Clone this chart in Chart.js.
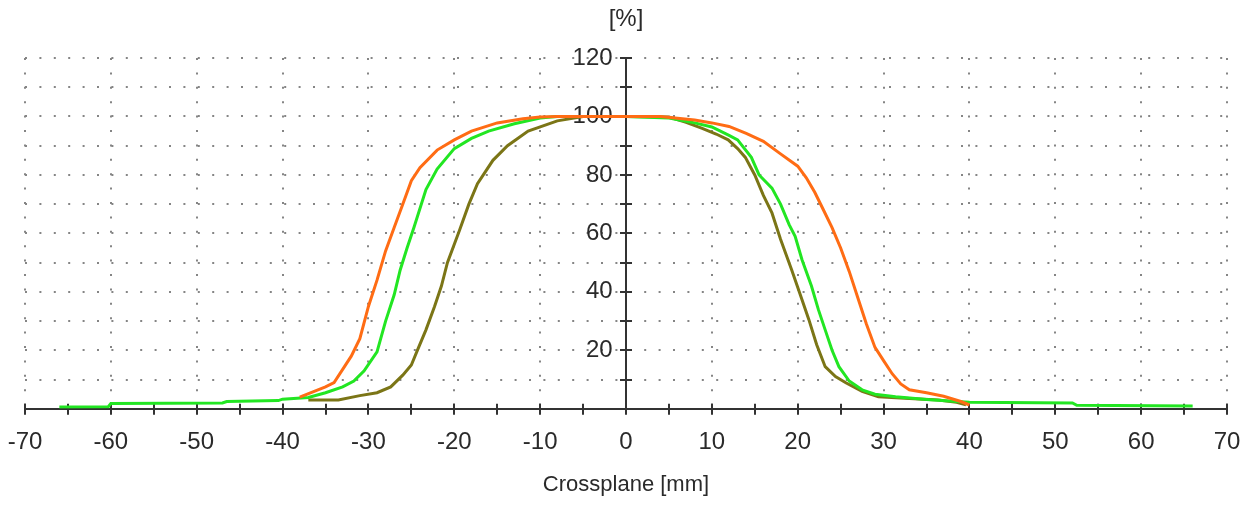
<!DOCTYPE html>
<html>
<head>
<meta charset="utf-8">
<title>Crossplane profile</title>
<script src="https://cdn.jsdelivr.net/npm/chart.js@4.4.1/dist/chart.umd.min.js"></script>
<style>
    html, body { margin: 0; padding: 0; background: #fff; }
    #wrap { width: 1259px; height: 506px; position: relative; }
</style>
</head>
<body>
<div id="wrap"><canvas id="profileChart"></canvas></div>
<script>
// profile values (mm, %)
const orangeX = [-38, -35, -34, -32, -31, -30, -29, -28, -27, -26, -25, -24, -22, -20, -18, -15, -12, -10, -8, 0, 4, 8, 10, 12, 14, 16, 18, 20, 21, 22, 23, 24, 25, 26, 27, 28, 29, 30, 31, 32, 33, 35, 37, 39, 40]
const orangeY = [4, 7.5, 9, 18, 24, 35, 44, 54, 62, 70, 78, 82.5, 88.5, 92, 95, 97.8, 99.2, 99.8, 100, 100, 100, 98.8, 97.8, 96.6, 94.2, 91.5, 87.2, 83, 79, 74, 68, 62, 55, 47, 38, 29, 21, 16.5, 12, 8.5, 6.5, 5.5, 4.3, 2.5, 1.3]

const greenX = [-66, -60.3, -60, -47, -46.5, -40.5, -40, -37, -35, -33, -31.7, -30.5, -29, -28, -27, -26.3, -25.5, -24.7, -23.3, -22, -20, -18, -16, -13, -10, -8, 0, 5, 8, 10, 12, 13, 14.6, 15.5, 17, 18, 19, 19.7, 20.5, 21.6, 22.4, 23.2, 24, 24.8, 26, 27.5, 29, 31.4, 35, 39, 40, 52, 52.5, 66]
const greenY = [0.6, 0.7, 1.8, 2.0, 2.5, 2.8, 3.3, 3.9, 5.5, 7.5, 9.5, 13, 19.5, 30, 39, 47.5, 55, 62, 75, 82, 89, 92.5, 95, 97.5, 99.5, 100, 100, 99.5, 97.8, 96.4, 93.5, 92, 86, 80, 75.5, 70, 63, 59, 51, 42, 34, 27, 20, 14.4, 9.5, 6.5, 5, 4.1, 3.2, 2.4, 2.2, 2.0, 1.2, 1.0]

const oliveX = [-37, -33.5, -31, -29, -27.4, -26, -25, -24.3, -23.3, -22.3, -21.5, -20.8, -19.4, -18.3, -17.3, -15.5, -13.8, -11.4, -8, -5, 0, 5, 7, 8.8, 10.5, 11.9, 13, 13.9, 15, 16, 17, 18, 19.3, 20.3, 21.3, 22.2, 23.2, 24.4, 25.6, 27.5, 29.4, 33, 36.4, 38.5, 39.6]
const oliveY = [3, 3, 4.5, 5.5, 7.5, 11.5, 15, 20, 27, 35, 42, 50, 61, 70, 77, 85, 90, 95, 98.5, 100, 100, 99.8, 98, 96, 94, 92, 89, 86, 80, 73, 67, 58, 47.5, 39, 30.5, 22, 14.4, 11, 8.9, 6, 4.1, 3.5, 3, 2.2, 1.4]

const xTicks = { min: -70, max: 70, step: 10, minorStep: 5 }
const yTicks = { min: 0, max: 120, step: 10, labelStep: 20 }

const fontFamily = "'Liberation Sans', Arial, sans-serif"
const textColor = "#2a2a2a"
const axisColor = "#333333"
const gridColor = "#858585"

function toPoints(xs, ys) {
    return xs.map((x, i) => ({ x: x, y: ys[i] }))
}

// crossing tick marks on both axes + the "[%]" unit above the y axis
const axisMarks = {
    id: "axisMarks",
    beforeDatasetsDraw(chart) {
        const { ctx, scales: { x, y } } = chart
        const x0 = x.getPixelForValue(0)
        const y0 = y.getPixelForValue(0)

        ctx.save()
        ctx.strokeStyle = axisColor
        ctx.lineWidth = 2
        ctx.beginPath()
        for (let v = xTicks.min; v <= xTicks.max; v += xTicks.minorStep) {
            const px = Math.round(x.getPixelForValue(v))
            ctx.moveTo(px, y0 - 5)
            ctx.lineTo(px, y0 + 6)
        }
        for (let v = yTicks.min + yTicks.step; v <= yTicks.max; v += yTicks.step) {
            const py = Math.round(y.getPixelForValue(v))
            ctx.moveTo(x0 - 6, py)
            ctx.lineTo(x0 + 6, py)
        }
        ctx.stroke()
        ctx.restore()
    },
    afterDraw(chart) {
        const { ctx, scales: { x } } = chart
        ctx.save()
        ctx.fillStyle = textColor
        ctx.font = "24px " + fontFamily
        ctx.textAlign = "center"
        ctx.textBaseline = "middle"
        ctx.fillText("[%]", x.getPixelForValue(0), 19)
        ctx.restore()
    }
}

const ctx = document.getElementById("profileChart")

new Chart(ctx, {
    type: "line",
    data: {
        datasets: [
            {
                label: "Orange",
                data: toPoints(orangeX, orangeY),
                borderColor: "#ff6c14",
                borderWidth: 3
            },
            {
                label: "Green",
                data: toPoints(greenX, greenY),
                borderColor: "#22e622",
                borderWidth: 3
            },
            {
                label: "Olive",
                data: toPoints(oliveX, oliveY),
                borderColor: "#7b7516",
                borderWidth: 3
            }
        ]
    },
    options: {
        responsive: true,
        maintainAspectRatio: false,
        animation: false,
        devicePixelRatio: 1,
        elements: {
            point: { radius: 0 },
            line: { tension: 0, fill: false }
        },
        layout: {
            padding: { left: 25, right: 32, top: 58, bottom: 0 }
        },
        plugins: {
            legend: { display: false },
            tooltip: { enabled: false }
        },
        scales: {
            x: {
                type: "linear",
                position: "bottom",
                min: xTicks.min,
                max: xTicks.max,
                grid: {
                    color: gridColor,
                    lineWidth: 2,
                    drawTicks: true,
                    tickLength: 17,
                    tickColor: "rgba(0,0,0,0)"
                },
                border: {
                    display: true,
                    color: axisColor,
                    width: 2,
                    dash: [2, 12.4]
                },
                ticks: {
                    stepSize: xTicks.step,
                    autoSkip: false,
                    maxRotation: 0,
                    padding: 2,
                    color: textColor,
                    font: { family: fontFamily, size: 24 }
                },
                title: {
                    display: true,
                    text: "Crossplane [mm]",
                    color: textColor,
                    font: { family: fontFamily, size: 22 },
                    padding: { top: 13, bottom: 8 }
                }
            },
            y: {
                type: "linear",
                position: { x: 0 },
                min: yTicks.min,
                max: yTicks.max,
                grid: {
                    color: gridColor,
                    lineWidth: 2,
                    drawTicks: false
                },
                border: {
                    display: true,
                    color: axisColor,
                    width: 2,
                    dash: [2, 12.4]
                },
                ticks: {
                    stepSize: yTicks.step,
                    autoSkip: false,
                    color: textColor,
                    font: { family: fontFamily, size: 24 },
                    // labels sit left of the centred axis; trailing spaces keep them off the line
                    callback: (v) => (v !== 0 && v % yTicks.labelStep === 0) ? v + "  " : ""
                }
            }
        }
    },
    plugins: [axisMarks]
})
</script>
</body>
</html>
